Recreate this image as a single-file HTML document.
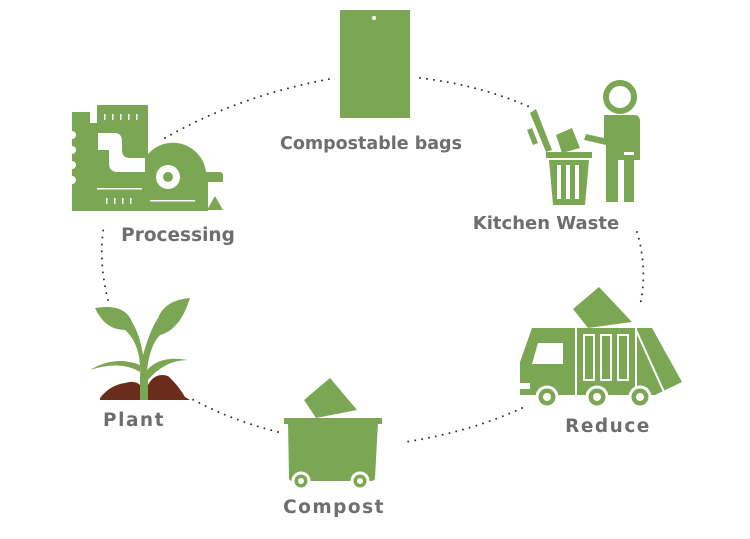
<!DOCTYPE html>
<html><head><meta charset="utf-8"><style>
html,body{margin:0;padding:0;background:#fff}
svg{display:block}
text{font-family:"DejaVu Sans","Liberation Sans",sans-serif;font-weight:bold;fill:#6e6e6e}
</style></head><body>
<svg width="750" height="539" viewBox="0 0 750 539" xmlns="http://www.w3.org/2000/svg">
<g fill="none" stroke="#333" stroke-width="2" stroke-linecap="round" stroke-dasharray="0 7">
<path d="M165,138 Q240,95 335,78"/>
<path d="M420,78 Q480,85 532,108"/>
<path d="M637,232 Q648,270 640,305"/>
<path d="M522,408 Q470,432 405,442"/>
<path d="M278,432 Q230,420 190,398"/>
<path d="M108,300 Q98,260 104,225"/>
</g>
<g fill="#7ba755">
<rect x="340" y="10" width="70" height="108"/>
<circle cx="374" cy="18" r="2" fill="#fff"/>
<rect x="72" y="123" width="76" height="88"/>
<rect x="72" y="112" width="18" height="14"/>
<rect x="97" y="105" width="51" height="20"/>
<path d="M140,211 L140,180 A33,33 0 0 1 206,172 L220,172 Q223,172 223,176 L223,182 L208,182 L208,211 Z"/>
<polygon points="207,210 223,210 215,196"/>
<circle cx="168" cy="177" r="12" fill="#fff"/>
<circle cx="168" cy="177" r="5"/>
<path d="M98,133 L115,133 Q122,133 122,142 L122,150 Q122,158 130,158 L145,158 L145,172 L118,172 Q109,172 109,163 L109,150 L98,150 Z" fill="#fff"/>
<g fill="#fff"><circle cx="72" cy="135" r="4"/><circle cx="72" cy="150" r="4"/><circle cx="72" cy="165" r="4"/><circle cx="72" cy="180" r="4"/>
<rect x="97" y="188" width="45" height="1.5"/><rect x="150" y="200" width="45" height="1.5"/>
<rect x="104" y="114" width="1.5" height="6"/><rect x="112" y="114" width="1.5" height="6"/><rect x="120" y="114" width="1.5" height="6"/><rect x="128" y="114" width="1.5" height="6"/><rect x="136" y="114" width="1.5" height="6"/>
<rect x="106" y="198" width="1.5" height="6"/><rect x="114" y="198" width="1.5" height="6"/><rect x="122" y="198" width="1.5" height="6"/><rect x="130" y="198" width="1.5" height="6"/></g>
<circle cx="620" cy="97" r="14" fill="none" stroke="#7ba755" stroke-width="6"/>
<path d="M604,115 L634,115 Q640,115 640,121 L640,160 L634,160 L634,202 L624,202 L624,160 L618,160 L618,202 L606,202 L606,145 L584,140 L586,134 L604,138 Z"/>
<rect x="624" y="152" width="10" height="3" fill="#fff"/>
<polygon points="530,113 536,109 552,150 546,152"/>
<polygon points="527,130 532,128 538,143 533,145"/>
<polygon points="556,135 572,128 580,148 562,153"/>
<rect x="546" y="152" width="46" height="6"/>
<path d="M549,160 L589,160 L585,205 L553,205 Z"/>
<g fill="#fff"><rect x="557" y="165" width="4" height="34"/><rect x="566" y="165" width="4" height="34"/><rect x="575" y="165" width="4" height="34"/></g>
<polygon points="573,309 599,287 632,322 588,328"/>
<path d="M532,328 L575,328 L575,395 L520,395 L520,362 Z"/>
<rect x="577" y="328" width="58" height="67"/>
<path d="M637,328 L652,328 L682,382 L655,395 L637,395 Z"/>
<path d="M538,343 L563,343 L563,364 L532,364 Z" fill="#fff"/>
<rect x="520" y="383" width="10" height="6" fill="#fff"/>
<g fill="none" stroke="#fff" stroke-width="2"><rect x="584" y="335" width="10" height="45"/><rect x="601" y="335" width="10" height="45"/><rect x="618" y="335" width="10" height="45"/><line x1="636" y1="330" x2="664" y2="392"/></g>
<g stroke="#fff" stroke-width="3"><circle cx="547" cy="397" r="10"/><circle cx="597" cy="397" r="10"/><circle cx="640" cy="397" r="10"/></g>
<g fill="#fff"><circle cx="547" cy="397" r="4"/><circle cx="597" cy="397" r="4"/><circle cx="640" cy="397" r="4"/></g>
<polygon points="304,400 330,378 357,410 316,418"/>
<rect x="284" y="418" width="98" height="6"/>
<path d="M288,422 L378,422 L375,478 Q375,481 370,481 L293,481 Q289,481 289,478 Z"/>
<g stroke="#fff" stroke-width="3"><circle cx="301" cy="481" r="8"/><circle cx="360" cy="481" r="8"/></g>
<g fill="#fff"><circle cx="301" cy="481" r="3"/><circle cx="360" cy="481" r="3"/></g>
<path d="M140,378 Q142,345 125,330 Q105,330 95,308 Q125,303 132,322 Q140,335 143,355 Q150,330 158,318 Q165,300 190,298 Q180,330 160,335 Q150,345 147,370 Q160,355 188,360 Q165,360 148,380 Z"/>
<path d="M140,372 Q120,360 90,370 Q115,355 140,365 Z"/>
</g>
<path d="M100,398 Q110,385 125,383 Q135,380 140,385 L142,398 L148,398 L148,385 Q155,372 168,376 Q178,385 185,397 L190,400 L100,400 Z" fill="#6b2d1b"/>
<rect x="140" y="378" width="8" height="22" fill="#7ba755"/>
<text x="371" y="149" font-size="17.5" text-anchor="middle">Compostable bags</text>
<text x="546" y="229" font-size="18" text-anchor="middle">Kitchen Waste</text>
<text x="178" y="241" font-size="18.5" text-anchor="middle">Processing</text>
<text x="134" y="426" font-size="18.5" text-anchor="middle" letter-spacing="1.5">Plant</text>
<text x="334" y="513" font-size="18.5" text-anchor="middle" letter-spacing="1.5">Compost</text>
<text x="608" y="432" font-size="18.5" text-anchor="middle" letter-spacing="1.5">Reduce</text>
</svg>
</body></html>
